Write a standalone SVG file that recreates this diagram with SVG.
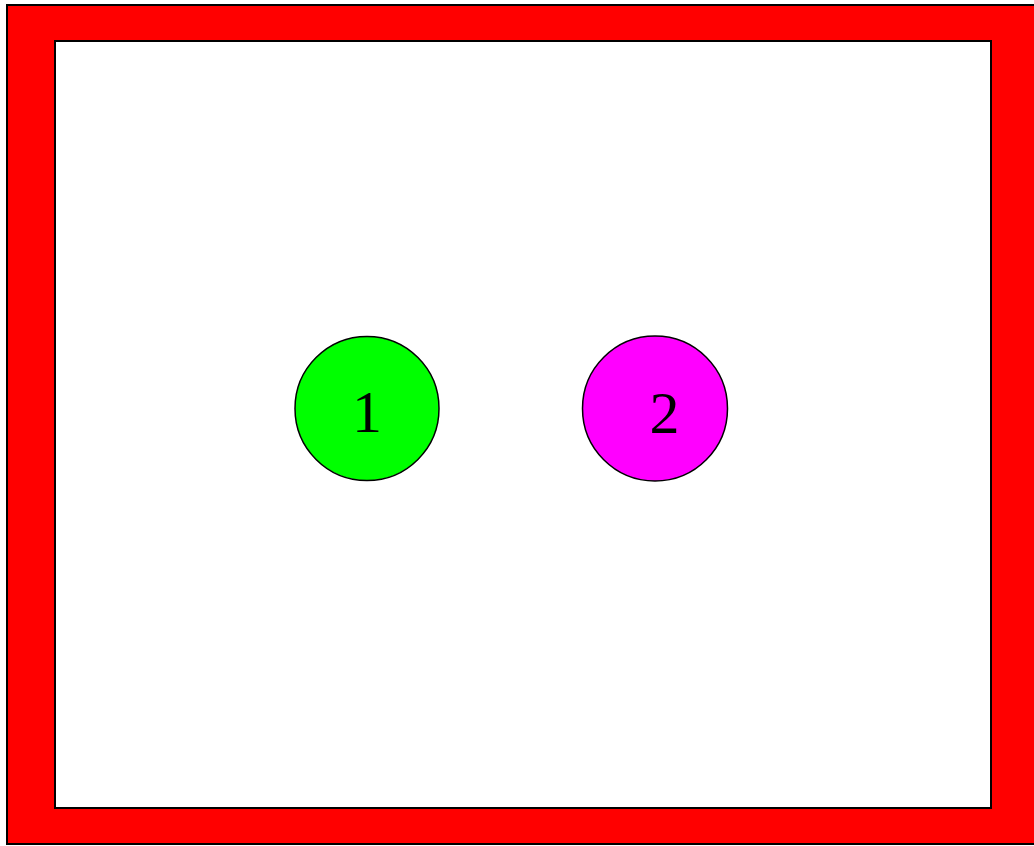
<svg xmlns="http://www.w3.org/2000/svg" width="1034" height="846" viewBox="0 0 1034 846">
<style>
.node{stroke:#000;stroke-width:1.5}
.lbl{font-family:"Liberation Serif","Times New Roman",serif;font-size:60px;fill:#000;text-anchor:middle}
</style>
<g id="frame">
<rect x="7" y="5" width="1032" height="839" fill="#ff0000" stroke="#000" stroke-width="2"/>
<rect x="55" y="41" width="936" height="767" fill="#fff" stroke="#000" stroke-width="2"/>
</g>
<g id="connectors"></g>
<g id="node1">
<circle class="node" cx="367" cy="408.5" r="72" fill="#00ff00"/>
<text class="lbl" x="367" y="432">1</text>
</g>
<g id="node2">
<circle class="node" cx="655" cy="408.5" r="72.5" fill="#ff00ff"/>
<text class="lbl" x="664.5" y="432.5">2</text>
</g>
</svg>
